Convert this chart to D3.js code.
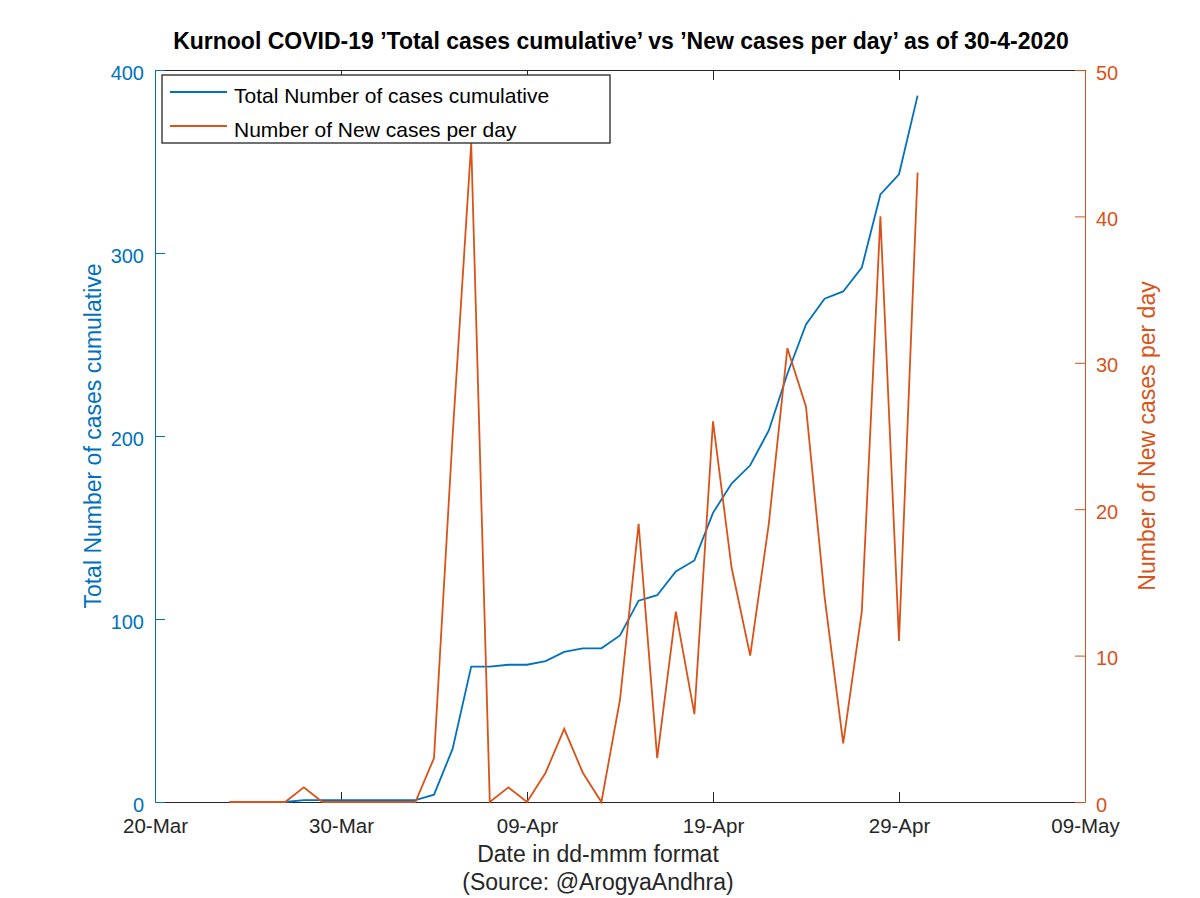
<!DOCTYPE html>
<html lang="en">
<head>
<meta charset="UTF-8">
<title>Kurnool COVID-19</title>
<script src="https://cdn.jsdelivr.net/npm/d3@7"></script>
<style>
    body { margin: 0; background: #fff; }
    text { font-family: 'Liberation Sans', Arial, sans-serif; }
</style>
</head>
<body>
<div id="chart"></div>
<script>
    // dates from 24-Mar-2020 to 30-Apr-2020
    const dates = ["2020-03-24", "2020-03-25", "2020-03-26", "2020-03-27", "2020-03-28", "2020-03-29",
        "2020-03-30", "2020-03-31", "2020-04-01", "2020-04-02", "2020-04-03", "2020-04-04",
        "2020-04-05", "2020-04-06", "2020-04-07", "2020-04-08", "2020-04-09", "2020-04-10",
        "2020-04-11", "2020-04-12", "2020-04-13", "2020-04-14", "2020-04-15", "2020-04-16",
        "2020-04-17", "2020-04-18", "2020-04-19", "2020-04-20", "2020-04-21", "2020-04-22",
        "2020-04-23", "2020-04-24", "2020-04-25", "2020-04-26", "2020-04-27", "2020-04-28",
        "2020-04-29", "2020-04-30"]
    const totalCases = [0, 0, 0, 0, 1, 1, 1, 1, 1, 1, 1, 4, 29, 74, 74, 75, 75, 77, 82, 84, 84, 91,
        110, 113, 126, 132, 158, 174, 184, 203, 234, 261, 275, 279, 292, 332, 343, 386]
    const newCases = [0, 0, 0, 0, 1, 0, 0, 0, 0, 0, 0, 3, 25, 45, 0, 1, 0, 2, 5, 2, 0, 7, 19, 3,
        13, 6, 26, 16, 10, 19, 31, 27, 14, 4, 13, 40, 11, 43]
    const xTicks = ["2020-03-20", "2020-03-30", "2020-04-09", "2020-04-19", "2020-04-29", "2020-05-09"]
    const leftTicks = [0, 100, 200, 300, 400]
    const rightTicks = [0, 10, 20, 30, 40, 50]

    const blue = "#0072BD", orange = "#D95319", dark = "#262626"
    const W = 1200, H = 898
    const m = { left: 155, right: 115, top: 70, bottom: 96 }
    const iw = W - m.left - m.right, ih = H - m.top - m.bottom

    const parse = d3.utcParse("%Y-%m-%d")
    const rows = dates.map((d, i) => ({ date: parse(d), total: totalCases[i], fresh: newCases[i] }))

    const x = d3.scaleUtc().domain([parse(xTicks[0]), parse(xTicks[xTicks.length - 1])]).range([0, iw])
    const yL = d3.scaleLinear().domain([0, 400]).range([ih, 0])
    const yR = d3.scaleLinear().domain([0, 50]).range([ih, 0])

    const svg = d3.select("#chart").append("svg").attr("width", W).attr("height", H)
    const g = svg.append("g").attr("transform", `translate(${m.left},${m.top})`)

    // top + bottom box lines with inward ticks
    const bottomAxis = d3.axisBottom(x).tickValues(xTicks.map(parse))
        .tickFormat(d3.utcFormat("%d-%b")).tickSizeInner(-10).tickSizeOuter(0).tickPadding(16)
    const gx = g.append("g").attr("transform", `translate(0,${ih})`).call(bottomAxis)
    gx.selectAll("text").attr("font-size", 20.5).attr("fill", dark)
    gx.selectAll("line,path").attr("stroke", dark)

    const topAxis = d3.axisTop(x).tickValues(xTicks.map(parse)).tickFormat("").tickSizeInner(-10).tickSizeOuter(0)
    g.append("g").call(topAxis).selectAll("line,path").attr("stroke", dark)

    const leftAxis = d3.axisLeft(yL).tickValues(leftTicks).tickSizeInner(-10).tickSizeOuter(0).tickPadding(11)
    const gl = g.append("g").call(leftAxis)
    gl.selectAll("line,path").attr("stroke", blue)
    gl.selectAll("text").attr("font-size", 20).attr("fill", blue).attr("dy", "0.45em")

    const rightAxis = d3.axisRight(yR).tickValues(rightTicks).tickSizeInner(-10).tickSizeOuter(0).tickPadding(11)
    const gr = g.append("g").attr("transform", `translate(${iw},0)`).call(rightAxis)
    gr.selectAll("line,path").attr("stroke", orange)
    gr.selectAll("text").attr("font-size", 20).attr("fill", orange).attr("dy", "0.45em")

    // lines
    const lineTotal = d3.line().x(d => x(d.date)).y(d => yL(d.total))
    const lineNew = d3.line().x(d => x(d.date)).y(d => yR(d.fresh))

    g.append("path").datum(rows).attr("d", lineTotal)
        .attr("fill", "none").attr("stroke", blue).attr("stroke-width", 1.8)
    g.append("path").datum(rows).attr("d", lineNew)
        .attr("fill", "none").attr("stroke", orange).attr("stroke-width", 1.8)

    // legend
    const lg = g.append("g").attr("transform", "translate(7,5)")
    lg.append("rect").attr("width", 448).attr("height", 68)
        .attr("fill", "#fff").attr("stroke", dark).attr("stroke-width", 1.3)
    const items = [["Total Number of cases cumulative", blue], ["Number of New cases per day", orange]]
    items.forEach(([label, col], i) => {
        const yy = 17 + i * 34
        lg.append("line").attr("x1", 8).attr("x2", 65).attr("y1", yy).attr("y2", yy)
            .attr("stroke", col).attr("stroke-width", 1.8)
        lg.append("text").attr("x", 72).attr("y", yy + 11).attr("font-size", 21)
            .attr("fill", "#000").text(label)
    })

    // titles
    svg.append("text").attr("x", 621).attr("y", 49).attr("text-anchor", "middle")
        .attr("font-size", 23).attr("font-weight", "bold").attr("fill", "#000")
        .text("Kurnool COVID-19 ’Total cases cumulative’ vs ’New cases per day’ as of 30-4-2020")
    svg.append("text").attr("x", 598).attr("y", 862).attr("text-anchor", "middle")
        .attr("font-size", 23).attr("fill", dark).text("Date in dd-mmm format")
    svg.append("text").attr("x", 598).attr("y", 890).attr("text-anchor", "middle")
        .attr("font-size", 23).attr("fill", dark).text("(Source: @ArogyaAndhra)")
    svg.append("text").attr("transform", `translate(101,${m.top + ih / 2}) rotate(-90)`)
        .attr("text-anchor", "middle").attr("font-size", 23).attr("fill", blue)
        .text("Total Number of cases cumulative")
    svg.append("text").attr("transform", `translate(1155,${m.top + ih / 2}) rotate(-90)`)
        .attr("text-anchor", "middle").attr("font-size", 23).attr("fill", orange)
        .text("Number of New cases per day")
</script>
</body>
</html>
